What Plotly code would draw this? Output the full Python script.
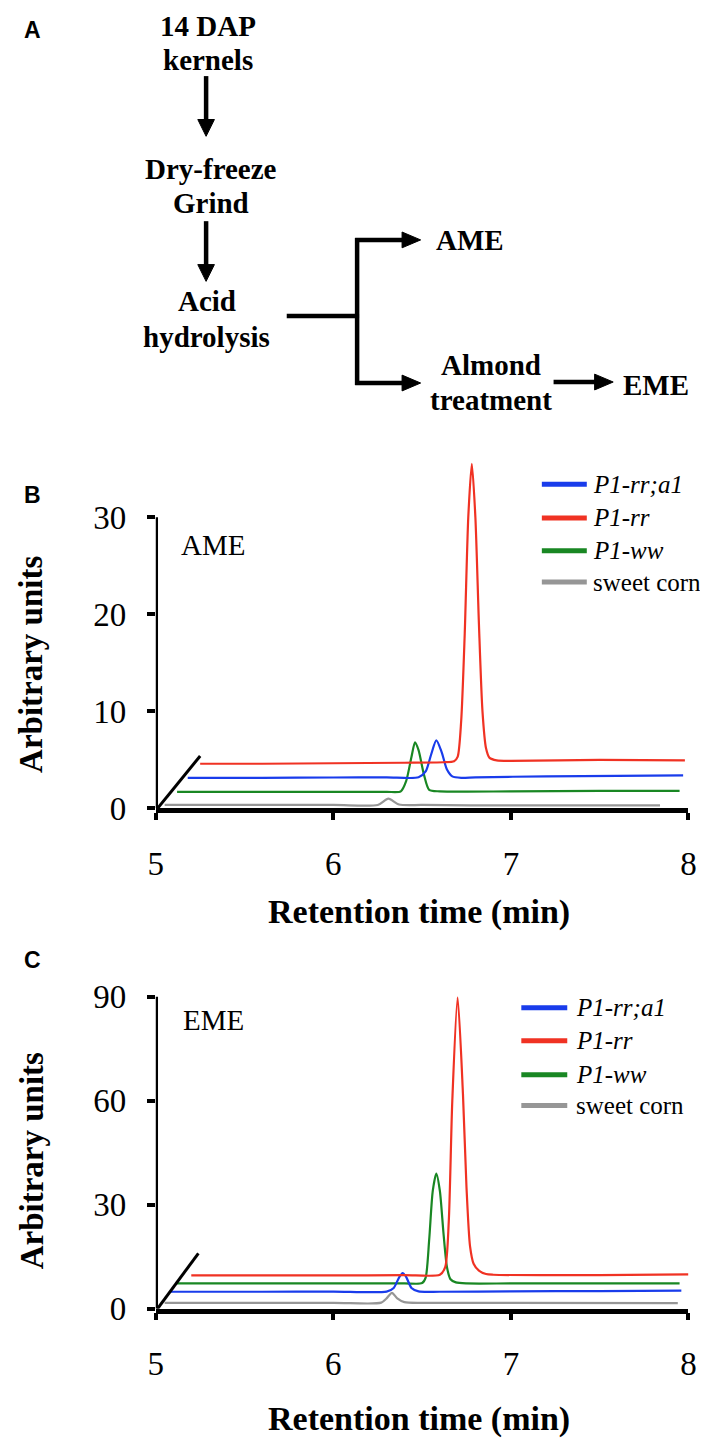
import plotly.graph_objects as go

W, H = 708, 1449

# ---- data ----
series_names = ['<i>P1-rr;a1</i>', '<i>P1-rr</i>', '<i>P1-ww</i>', 'sweet corn']
series_colors = ['rgb(25,60,235)', 'rgb(240,50,35)', 'rgb(25,135,35)', 'rgb(150,150,150)']

# panel B (AME)
ame_rra1_x = [5.18, 5.6, 6.0, 6.3, 6.48, 6.52, 6.55, 6.58, 6.61, 6.64, 6.67, 6.72, 6.8, 7.2, 7.6, 7.97]
ame_rra1_y = [3.15, 3.15, 3.18, 3.2, 3.2, 3.8, 5.5, 7.0, 5.8, 4.0, 3.3, 3.15, 3.2, 3.3, 3.35, 3.4]
ame_rr_x = [5.25, 5.6, 6.0, 6.4, 6.62, 6.68, 6.70, 6.72, 6.74, 6.76, 6.78, 6.80, 6.82, 6.84,
            6.86, 6.88, 6.92, 7.0, 7.5, 7.98]
ame_rr_y = [4.6, 4.6, 4.65, 4.7, 4.75, 4.85, 5.3, 9.0, 18.0, 30.0, 35.5, 30.0, 19.0, 10.0,
            6.2, 5.2, 4.95, 4.9, 5.0, 4.95]
ame_ww_x = [5.12, 5.6, 6.0, 6.3, 6.38, 6.41, 6.44, 6.46, 6.48, 6.51, 6.54, 6.6, 7.0, 7.5, 7.95]
ame_ww_y = [1.7, 1.7, 1.7, 1.7, 1.75, 2.8, 5.3, 6.8, 6.0, 3.5, 1.9, 1.75, 1.75, 1.8, 1.8]
ame_sweet_x = [5.05, 6.0, 6.25, 6.31, 6.37, 6.5, 7.0, 7.84]
ame_sweet_y = [0.35, 0.35, 0.35, 1.0, 0.4, 0.35, 0.3, 0.3]

# panel C (EME)
eme_rra1_x = [5.08, 5.6, 6.0, 6.3, 6.34, 6.37, 6.39, 6.41, 6.44, 6.48, 6.6, 7.0, 7.5, 7.96]
eme_rra1_y = [4.9, 4.9, 4.95, 4.95, 6.0, 9.0, 10.3, 9.2, 6.0, 5.0, 4.9, 5.0, 5.1, 5.2]
eme_rr_x = [5.2, 5.6, 6.0, 6.4, 6.6, 6.63, 6.65, 6.67, 6.70, 6.73, 6.75, 6.77, 6.79, 6.82,
            6.86, 6.9, 7.5, 8.0]
eme_rr_y = [9.6, 9.6, 9.6, 9.7, 9.8, 12.0, 25.0, 60.0, 89.8, 62.0, 35.0, 18.0, 13.0, 11.0,
            10.0, 9.8, 9.7, 9.9]
eme_ww_x = [5.12, 5.6, 6.0, 6.4, 6.50, 6.52, 6.54, 6.56, 6.58, 6.60, 6.62, 6.64, 6.66, 6.69,
            6.75, 7.0, 7.5, 7.95]
eme_ww_y = [7.3, 7.3, 7.3, 7.3, 7.4, 9.0, 20.0, 34.0, 39.0, 34.0, 22.0, 12.0, 8.5, 7.6,
            7.3, 7.3, 7.3, 7.3]
eme_sweet_x = [5.05, 6.0, 6.27, 6.30, 6.33, 6.36, 6.40, 6.5, 7.0, 7.94]
eme_sweet_y = [1.7, 1.7, 1.75, 3.0, 4.6, 3.0, 1.9, 1.7, 1.7, 1.6]

x_ticks = [5, 6, 7, 8]
ame_ticks = [0, 10, 20, 30]
eme_ticks = [0, 30, 60, 90]

SERIF = 'Times New Roman, Liberation Serif, Times, serif'
SANS = 'Arial, Liberation Sans, Helvetica, sans-serif'


def px(x):
    return x / W


def py(y):
    return 1 - y / H


fig = go.Figure()

panels = [
    ('x', 'y', [(ame_rra1_x, ame_rra1_y), (ame_rr_x, ame_rr_y),
                (ame_ww_x, ame_ww_y), (ame_sweet_x, ame_sweet_y)]),
    ('x2', 'y2', [(eme_rra1_x, eme_rra1_y), (eme_rr_x, eme_rr_y),
                  (eme_ww_x, eme_ww_y), (eme_sweet_x, eme_sweet_y)]),
]
for xa, ya, curves in panels:
    # draw gray first so coloured traces sit on top
    for i in [3, 2, 0, 1]:
        xs, ys = curves[i]
        fig.add_trace(go.Scatter(
            x=xs, y=ys, mode='lines', xaxis=xa, yaxis=ya,
            line=dict(color=series_colors[i], width=2.2, shape='spline', smoothing=0.7),
            showlegend=False, hoverinfo='skip'
        ))

# pixel geometry of the two plots
x_left, x_right = 143, 688
b_zero, b_30 = 811, 516
c_zero, c_90 = 1318, 1002
b_top = 38.0
c_top = 95.0
b_scale = (b_zero - b_30) / 30
c_scale = (c_zero - c_90) / 90

xaxis_template = dict(
    range=[5, 8], domain=[px(x_left), px(x_right)],
    showline=True, linewidth=4.5, linecolor='black',
    ticks='outside', ticklen=7, tickwidth=4, tickcolor='black',
    tickvals=x_ticks, tickfont=dict(family=SERIF, size=33, color='black'),
    ticklabelstandoff=15,
    showgrid=False, zeroline=False, fixedrange=True,
)
yaxis_template = dict(
    showline=False,
    ticks='outside', ticklen=8, tickwidth=4, tickcolor='black',
    tickfont=dict(family=SERIF, size=33, color='black'),
    ticklabelstandoff=14,
    showgrid=False, zeroline=False, fixedrange=True,
)

fig.update_layout(
    xaxis=dict(xaxis_template, anchor='y'),
    yaxis=dict(yaxis_template, anchor='x', range=[0, b_top], tickvals=ame_ticks,
               domain=[py(b_zero), py(b_zero - b_top * b_scale)]),
    xaxis2=dict(xaxis_template, anchor='y2'),
    yaxis2=dict(yaxis_template, anchor='x2', range=[0, c_top], tickvals=eme_ticks,
                domain=[py(c_zero), py(c_zero - c_top * c_scale)]),
)

shapes = []
annotations = []

# y-axis lines (only up to the last tick) and the perspective diagonals
shapes.append(dict(type='line', xref='x', yref='y', x0=5, x1=5, y0=0, y1=30,
                   line=dict(color='black', width=4.5)))
shapes.append(dict(type='line', xref='x2', yref='y2', x0=5, x1=5, y0=0, y1=90,
                   line=dict(color='black', width=4.5)))
shapes.append(dict(type='line', xref='x', yref='y', x0=5.01, x1=5.25, y0=0, y1=5.4,
                   line=dict(color='black', width=3)))
shapes.append(dict(type='line', xref='x2', yref='y2', x0=5.01, x1=5.24, y0=0, y1=16,
                   line=dict(color='black', width=3)))


def text(s, x, y, size, anchor='center', family=SERIF, bold=False, italic=False, angle=0):
    if bold:
        s = '<b>' + s + '</b>'
    if italic:
        s = '<i>' + s + '</i>'
    annotations.append(dict(
        text=s, x=px(x), y=py(y), xref='paper', yref='paper',
        xanchor=anchor, yanchor='middle', showarrow=False, textangle=angle,
        font=dict(family=family, size=size, color='black')
    ))


# axis titles and inset labels
for cx, cy in [(16, 665), (16, 1168)]:
    text('Arbitrary units', cx, cy, 33, bold=True, angle=-90)
for cy in [916, 1430]:
    text('Retention time (min)', 412, cy, 34, bold=True)
text('AME', 167, 544, 29, anchor='left')
text('EME', 169, 1025, 29, anchor='left')

# panel letters
text('A', 6, 22, 23, anchor='left', family=SANS, bold=True)
text('B', 6, 493, 23, anchor='left', family=SANS, bold=True)
text('C', 6, 965, 23, anchor='left', family=SANS, bold=True)

# legends
for rows, lx0, lx1, tx in [([482.7, 516.7, 550, 581.7], 538, 584, 588),
                           ([1013, 1046.5, 1081, 1112], 517, 564, 571)]:
    for i, ry in enumerate(rows):
        shapes.append(dict(type='line', xref='paper', yref='paper',
                           x0=px(lx0), x1=px(lx1), y0=py(ry), y1=py(ry),
                           line=dict(color=series_colors[i], width=5)))
        text(series_names[i], tx, ry, 25, anchor='left')

# panel A flow chart
flow_text = [('14 DAP', 196, 18), ('kernels', 196, 53), ('Dry-freeze', 199, 163),
             ('Grind', 199, 198), ('Acid', 195, 297), ('hydrolysis', 195, 333),
             ('AME', 464, 235), ('Almond', 486, 362), ('treatment', 486, 397),
             ('EME', 655, 382)]
for s, x, y in flow_text:
    text(s, x, y, 29, bold=True)


def seg(x0, y0, x1, y1, w=4.5):
    shapes.append(dict(type='line', xref='paper', yref='paper',
                       x0=px(x0), y0=py(y0), x1=px(x1), y1=py(y1),
                       line=dict(color='black', width=w)))


def head(pts):
    path = 'M ' + ' L '.join('%.5f,%.5f' % (px(a), py(b)) for a, b in pts) + ' Z'
    shapes.append(dict(type='path', xref='paper', yref='paper', path=path,
                       fillcolor='black', line=dict(color='black', width=1)))


def down_arrow(x, y0, y1):
    seg(x, y0, x, y1 - 15)
    head([(x - 8.5, y1 - 17), (x + 8.5, y1 - 17), (x, y1)])


def right_arrow(x0, x1, y):
    seg(x0, y, x1 - 17, y)
    head([(x1 - 19, y - 8), (x1 - 19, y + 8), (x1, y)])


down_arrow(194.5, 69, 130)
down_arrow(194.5, 216, 277)
seg(277, 312, 351, 312)
seg(349, 233, 349, 382)
right_arrow(347, 414, 235)
right_arrow(347, 414, 380)
right_arrow(550, 611, 379)

fig.update_layout(
    width=W, height=H,
    margin=dict(l=0, r=0, t=0, b=0),
    paper_bgcolor='white', plot_bgcolor='white',
    shapes=shapes, annotations=annotations,
    showlegend=False,
)

fig.write_html('out.html')
